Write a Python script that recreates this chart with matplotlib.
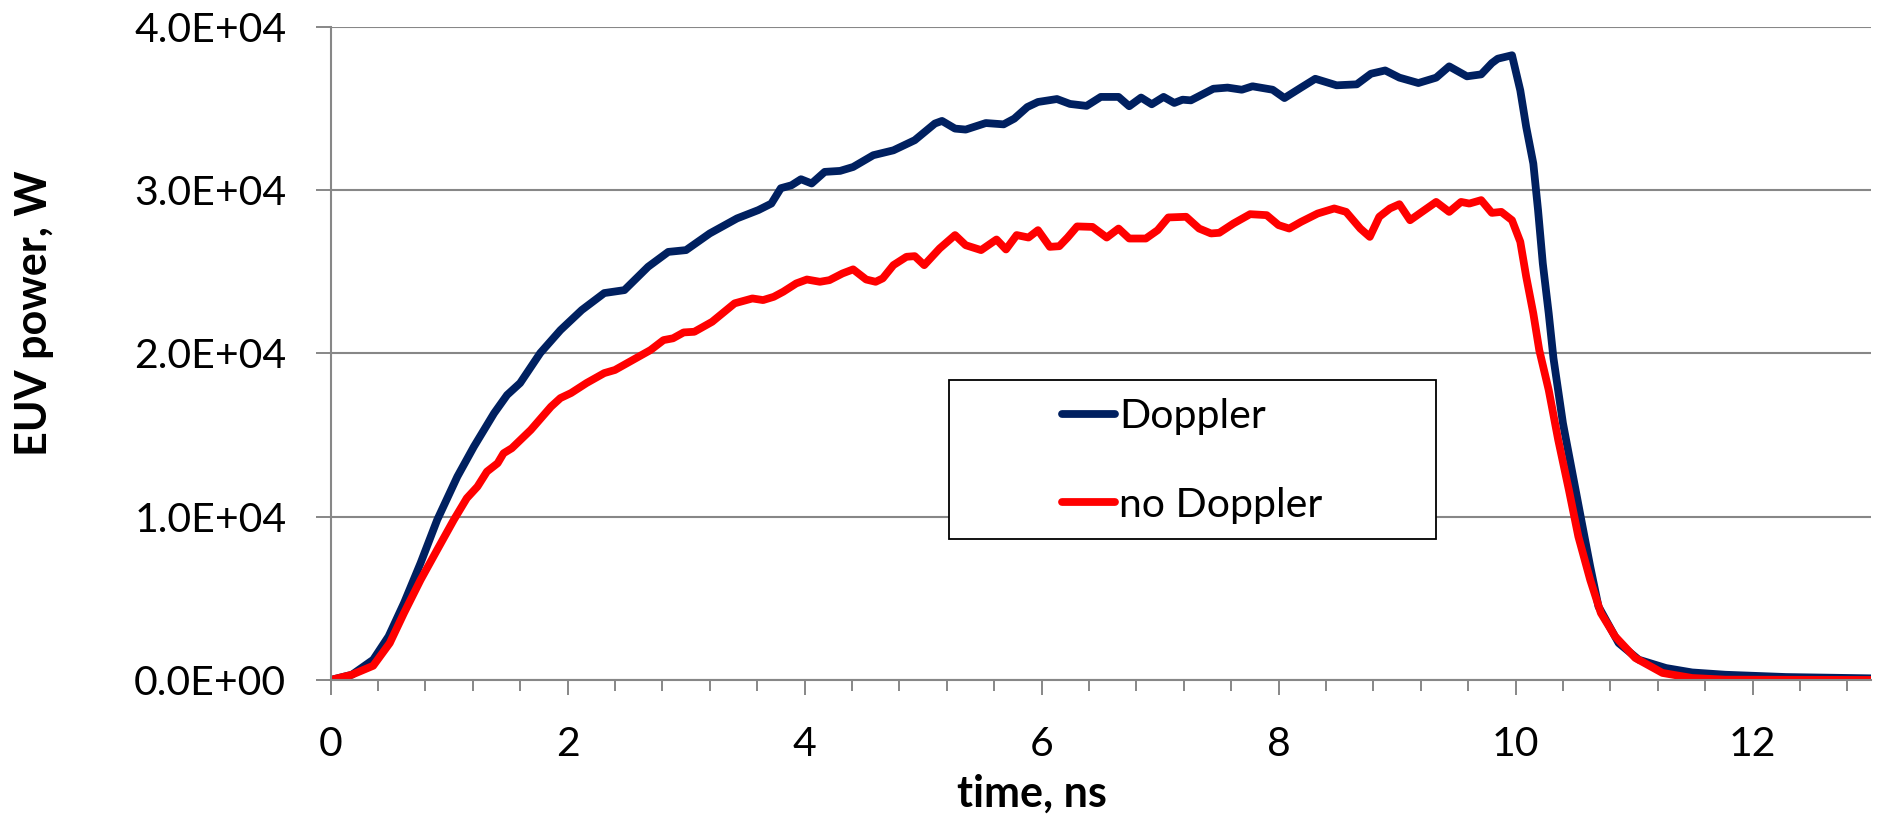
import matplotlib
matplotlib.use("Agg")
import matplotlib.pyplot as plt
from matplotlib.patches import Rectangle
from matplotlib.ticker import MultipleLocator, FuncFormatter

plt.rcParams['font.family'] = ['Lato', 'DejaVu Sans']

# EUV output vs time, with and without Doppler shift
t_doppler = [0.00, 0.18, 0.36, 0.49, 0.62, 0.76, 0.90, 1.07, 1.21, 1.38, 1.49, 1.60,
             1.77, 1.94, 2.12, 2.31, 2.48, 2.68, 2.85, 3.00, 3.20, 3.43, 3.61, 3.72,
             3.80, 3.89, 3.97, 4.06, 4.17, 4.30, 4.41, 4.58, 4.75, 4.93, 5.10, 5.16,
             5.27, 5.36, 5.53, 5.68, 5.77, 5.88, 5.97, 6.13, 6.24, 6.38, 6.50, 6.65,
             6.74, 6.84, 6.93, 7.03, 7.12, 7.19, 7.26, 7.45, 7.57, 7.69, 7.78, 7.95,
             8.05, 8.19, 8.31, 8.49, 8.66, 8.78, 8.90, 9.02, 9.18, 9.33, 9.44, 9.59,
             9.71, 9.80, 9.85, 9.97, 10.04, 10.09, 10.15, 10.19, 10.23, 10.28, 10.32,
             10.40, 10.48, 10.56, 10.63, 10.70, 10.87, 11.04, 11.27, 11.49, 11.77,
             12.28, 13.00]
p_doppler = [0, 320, 1240, 2670, 4710, 7160, 9800, 12450, 14290, 16330, 17450, 18180,
             20020, 21420, 22650, 23690, 23870, 25300, 26210, 26320, 27340, 28260, 28770, 29170,
             30110, 30290, 30660, 30400, 31110, 31170, 31410, 32130, 32430, 33050, 34070, 34230,
             33760, 33700, 34100, 34020, 34370, 35080, 35390, 35570, 35270, 35150, 35700, 35700,
             35130, 35660, 35250, 35700, 35330, 35530, 35490, 36200, 36270, 36140, 36350, 36140,
             35630, 36270, 36810, 36410, 36470, 37120, 37320, 36880, 36550, 36880, 37570, 36960,
             37080, 37770, 38040, 38250, 36100, 33860, 31620, 28760, 25500, 22440, 19700,
             15720, 12660, 9600, 6950, 4500, 2260, 1240, 730, 460, 320,
             180, 100]

t_nodoppler = [0.00, 0.18, 0.36, 0.50, 0.62, 0.76, 0.90, 1.04, 1.15, 1.24, 1.32, 1.41,
               1.46, 1.53, 1.69, 1.86, 1.94, 2.03, 2.16, 2.31, 2.40, 2.55, 2.70, 2.81,
               2.89, 2.98, 3.07, 3.22, 3.41, 3.56, 3.65, 3.74, 3.82, 3.93, 4.02, 4.13,
               4.21, 4.32, 4.41, 4.52, 4.60, 4.66, 4.75, 4.86, 4.93, 5.01, 5.14, 5.27,
               5.36, 5.49, 5.62, 5.70, 5.79, 5.89, 5.97, 6.07, 6.15, 6.22, 6.30, 6.43,
               6.55, 6.65, 6.74, 6.88, 6.98, 7.07, 7.22, 7.33, 7.43, 7.50, 7.62, 7.76,
               7.90, 8.00, 8.09, 8.19, 8.33, 8.47, 8.57, 8.69, 8.77, 8.85, 8.94, 9.02,
               9.11, 9.21, 9.33, 9.44, 9.54, 9.61, 9.71, 9.80, 9.88, 9.97, 10.04, 10.09,
               10.15, 10.20, 10.28, 10.36, 10.45, 10.53, 10.63, 10.72, 10.84, 11.01, 11.24,
               11.49, 11.77, 13.00]
p_nodoppler = [0, 320, 870, 2260, 4100, 6130, 7970, 9800, 11130, 11840, 12760, 13270,
               13880, 14190, 15310, 16730, 17260, 17570, 18180, 18790, 18980, 19590, 20200, 20810,
               20920, 21280, 21320, 21930, 23060, 23360, 23260, 23460, 23770, 24280, 24520, 24380,
               24480, 24890, 25140, 24520, 24380, 24590, 25400, 25910, 25950, 25400, 26420, 27240,
               26620, 26320, 26970, 26360, 27240, 27090, 27540, 26520, 26560, 27090, 27770, 27740,
               27090, 27640, 27030, 27030, 27540, 28320, 28360, 27640, 27340, 27380, 27950, 28520,
               28460, 27850, 27640, 28050, 28560, 28870, 28660, 27640, 27130, 28360, 28870, 29130,
               28150, 28660, 29270, 28660, 29270, 29170, 29380, 28600, 28660, 28150, 26830, 24690,
               22440, 20200, 17750, 14700, 11640, 8780, 6130, 4100, 2670, 1350, 430,
               120, 20, 0]

y_ticks = [0, 10000, 20000, 30000, 40000]

grey = '#878787'
fs = 29.5

fig = plt.figure(figsize=(18.78, 8.16), dpi=100)
ax = fig.add_axes([0.176, 0.1667, 0.8203, 0.8006])

ax.plot(t_doppler, p_doppler, color='#002060', lw=5.6, label='Doppler',
        solid_joinstyle='round', solid_capstyle='round')
ax.plot(t_nodoppler, p_nodoppler, color='#ff0000', lw=5.6, label='no Doppler',
        solid_joinstyle='round', solid_capstyle='round')

ax.set_xlim(0, 13)
ax.set_ylim(0, 40000)
ax.set_yticks(y_ticks)
ax.yaxis.set_major_formatter(FuncFormatter(lambda v, pos: f'{v:.1E}'))
ax.xaxis.set_major_locator(MultipleLocator(2))
ax.xaxis.set_minor_locator(MultipleLocator(0.4))

ax.grid(axis='y', color=grey, lw=1.5)
ax.set_axisbelow(True)
for side in ['top', 'right']:
    ax.spines[side].set_visible(False)
for side in ['left', 'bottom']:
    ax.spines[side].set_color(grey)
    ax.spines[side].set_linewidth(1.5)

ax.tick_params(axis='x', which='major', length=10.8, width=1.4, color=grey,
               labelsize=fs, pad=22)
ax.tick_params(axis='x', which='minor', length=7.9, width=1.4, color=grey)
ax.tick_params(axis='y', which='major', length=10.8, width=1.4, color=grey,
               labelsize=fs, pad=21)

ax.set_xlabel('time, ns', fontsize=31, fontweight='bold', va='center')
ax.xaxis.set_label_coords(0.4553, -0.1745)
ax.set_ylabel('EUV power, W', fontsize=31, fontweight='bold', va='center')
ax.yaxis.set_label_coords(-0.1925, 0.5617)

# legend box drawn separately so the padding can differ per direction
fig.patches.append(Rectangle((949 / 1878, 1 - 539 / 816), 487 / 1878, 159 / 816,
                             transform=fig.transFigure, fill=True, facecolor='white',
                             edgecolor='black', lw=1.3, zorder=5))
leg = fig.legend(loc='center', bbox_to_anchor=(0.6347, 0.4350), frameon=False,
                 fontsize=fs, handlelength=1.3, handletextpad=0.1, labelspacing=1.25)
leg.set_zorder(6)

fig.savefig('out.png', dpi=100)
